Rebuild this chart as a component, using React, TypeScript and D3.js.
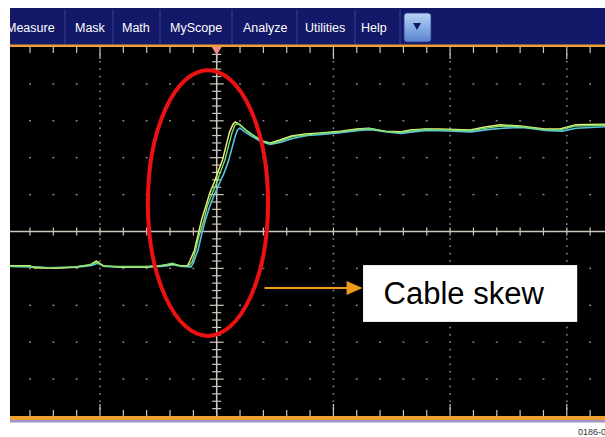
import React from "react";
import * as d3 from "d3";

// ---- data (time and amplitude in screen divisions) ----
const menuLabels = ["Measure", "Mask", "Math", "MyScope", "Analyze", "Utilities", "Help"];
const menuTextX = [6, 75, 122, 170, 243, 305, 361];
const menuSeparators = [65, 113, 160, 232, 297, 355, 400];

const yellowT = [-1.77, -1.6, -1.56, -1.34, -1.21, -1.09, -1.03, -0.97, -0.83, -0.61, -0.49, -0.38, -0.31, -0.25, -0.23, -0.19, -0.16, -0.13, -0.09, -0.06, -0.02, 0.01, 0.05, 0.08, 0.11, 0.14, 0.16, 0.2, 0.25, 0.32, 0.39, 0.46, 0.54, 0.64, 0.76, 0.89, 1.06, 1.2, 1.3, 1.44, 1.57, 1.66, 1.79, 1.91, 2.17, 2.3, 2.43, 2.6, 2.81, 2.94, 3.07, 3.33];
const yellowV = [-0.93, -0.93, -0.99, -0.99, -0.96, -0.91, -0.8, -0.93, -0.96, -0.96, -0.93, -0.88, -0.93, -0.93, -0.8, -0.5, -0.09, 0.31, 0.72, 1.04, 1.34, 1.61, 1.94, 2.32, 2.7, 2.91, 2.97, 2.89, 2.75, 2.59, 2.45, 2.4, 2.48, 2.59, 2.64, 2.67, 2.72, 2.78, 2.8, 2.72, 2.7, 2.75, 2.78, 2.78, 2.75, 2.83, 2.89, 2.86, 2.78, 2.78, 2.89, 2.91];

const greenT = [-1.77, -1.6, -1.45, -1.22, -1.08, -1.03, -0.97, -0.82, -0.62, -0.48, -0.38, -0.31, -0.24, -0.21, -0.18, -0.15, -0.11, -0.08, -0.04, 0.0, 0.03, 0.07, 0.1, 0.13, 0.155, 0.18, 0.21, 0.26, 0.33, 0.4, 0.47, 0.55, 0.65, 0.77, 0.89, 1.06, 1.21, 1.31, 1.45, 1.57, 1.67, 1.79, 1.91, 2.17, 2.31, 2.44, 2.61, 2.81, 2.95, 3.07, 3.33];
const greenV = [-0.94, -0.95, -0.98, -0.96, -0.9, -0.83, -0.94, -0.95, -0.95, -0.93, -0.86, -0.94, -0.94, -0.82, -0.5, -0.1, 0.3, 0.7, 1.02, 1.32, 1.6, 1.93, 2.3, 2.66, 2.88, 2.93, 2.86, 2.72, 2.57, 2.44, 2.38, 2.46, 2.57, 2.62, 2.66, 2.7, 2.76, 2.79, 2.71, 2.68, 2.73, 2.77, 2.76, 2.73, 2.8, 2.86, 2.84, 2.76, 2.76, 2.86, 2.88];

const cyanT = [-1.77, -1.58, -1.4, -1.2, -1.07, -1.02, -0.96, -0.8, -0.6, -0.45, -0.37, -0.3, -0.22, -0.2, -0.16, -0.13, -0.1, -0.06, -0.02, 0.02, 0.06, 0.1, 0.13, 0.16, 0.18, 0.2, 0.24, 0.3, 0.38, 0.46, 0.55, 0.65, 0.78, 0.9, 1.06, 1.22, 1.32, 1.46, 1.58, 1.68, 1.8, 1.92, 2.18, 2.32, 2.45, 2.62, 2.82, 2.96, 3.08, 3.33];
const cyanV = [-0.95, -0.96, -0.99, -0.97, -0.92, -0.86, -0.95, -0.97, -0.97, -0.94, -0.9, -0.95, -0.96, -0.85, -0.5, -0.1, 0.28, 0.68, 1.0, 1.28, 1.56, 1.9, 2.25, 2.6, 2.76, 2.8, 2.7, 2.58, 2.44, 2.36, 2.42, 2.52, 2.6, 2.63, 2.68, 2.74, 2.76, 2.7, 2.66, 2.7, 2.74, 2.73, 2.7, 2.76, 2.8, 2.82, 2.74, 2.72, 2.8, 2.84];

const annotationLabel = "Cable skew";
const footerLabel = "0186-0";

// ---- layout ----
const W = 605;
const H = 437;
const plotLeft = 10;
const plotRight = 605;
const plotTop = 47;
const plotBottom = 416;
const centerX = 216.7;
const divW = 116.7;

const x = d3.scaleLinear().domain([-5, 5]).range([centerX - 5 * divW, centerX + 5 * divW]);
const y = d3.scaleLinear().domain([-5, 5]).range([plotBottom, plotTop]);

const majorDivs = d3.range(-5, 5.001, 1);
const minorDivs = d3.range(-5, 5.001, 0.2).map((v) => Math.round(v * 10) / 10);

const inX = (px: number) => px >= plotLeft - 0.5 && px <= plotRight + 0.5;

function Trace({ t, v, color, width }: { t: number[]; v: number[]; color: string; width: number }) {
  const line = d3
    .line<number>()
    .x((_, i) => x(t[i]))
    .y((d) => y(d));
  return <path d={line(v) || ""} fill="none" stroke={color} strokeWidth={width} strokeLinejoin="round" />;
}

export default function App() {
  const gridColor = "#8a8a8a";
  const axisColor = "#cfc6bd";
  const dots: JSX.Element[] = [];
  // dots along vertical grid lines
  majorDivs.forEach((d) => {
    if (d === 0) return;
    const px = x(d);
    if (!inX(px)) return;
    minorDivs.forEach((m, j) => {
      const py = y(m);
      if (py <= plotTop + 2 || py >= plotBottom - 2) return;
      dots.push(<rect key={`vd${d}-${j}`} x={px - 0.8} y={py - 0.8} width={1.6} height={1.6} fill={gridColor} />);
    });
  });
  // dots along horizontal grid lines
  majorDivs.forEach((d) => {
    if (d === 0 || d === 5 || d === -5) return;
    const py = y(d);
    minorDivs.forEach((m, j) => {
      const px = x(m);
      if (!inX(px) || px < plotLeft + 3) return;
      if (Math.abs(m - Math.round(m)) < 0.01 && Math.round(m) !== 0) return;
      dots.push(<rect key={`hd${d}-${j}`} x={px - 1} y={py - 0.7} width={2} height={1.4} fill={gridColor} />);
    });
  });

  const ticks: JSX.Element[] = [];
  minorDivs.forEach((m, j) => {
    const px = x(m);
    if (!inX(px) || px < plotLeft + 2) return;
    const major = Math.abs(m - Math.round(m)) < 0.01;
    // top edge
    ticks.push(<line key={`tt${j}`} x1={px} x2={px} y1={plotTop} y2={plotTop + (major ? 12 : 6)} stroke={axisColor} strokeWidth={1.2} />);
    // bottom edge
    ticks.push(<line key={`bt${j}`} x1={px} x2={px} y1={plotBottom} y2={plotBottom - (major ? 12 : 6)} stroke={axisColor} strokeWidth={1.2} />);
    // center horizontal axis
    ticks.push(<line key={`ht${j}`} x1={px} x2={px} y1={y(0) - 4} y2={y(0) + 4} stroke={axisColor} strokeWidth={1.2} />);
  });
  minorDivs.forEach((m, j) => {
    const py = y(m);
    if (py <= plotTop + 1 || py >= plotBottom - 1) return;
    const major = Math.abs(m - Math.round(m)) < 0.01;
    const len = major ? 7 : 4.5;
    ticks.push(<line key={`vt${j}`} x1={x(0) - len} x2={x(0) + len} y1={py} y2={py} stroke={axisColor} strokeWidth={1.2} />);
  });

  const ellCx = x(-0.075);
  const ellCy = y(0.77);
  const ellRx = x(0.44) - x(-0.075);
  const ellRy = y(-2.83) - y(0.77);

  const arrowX1 = x(0.41);
  const arrowX2 = x(1.25);
  const arrowY = y(-1.53);

  const boxX1 = x(1.254);
  const boxX2 = x(3.089);
  const boxY1 = y(-0.91);
  const boxY2 = y(-2.45);

  return (
    <svg width={W} height={H} style={{ position: "absolute", left: 0, top: 0, background: "#fff" }} fontFamily="'Liberation Sans', Arial, sans-serif">
      <defs>
        <clipPath id="plotClip">
          <rect x={plotLeft} y={plotTop} width={plotRight - plotLeft} height={plotBottom - plotTop} />
        </clipPath>
        <clipPath id="barClip">
          <rect x={plotLeft} y={8} width={plotRight - plotLeft} height={37} />
        </clipPath>
        <linearGradient id="btnGrad" x1="0" y1="0" x2="0" y2="1">
          <stop offset="0" stopColor="#b8d4f4" />
          <stop offset="0.5" stopColor="#86aee6" />
          <stop offset="1" stopColor="#5a82cc" />
        </linearGradient>
      </defs>

      {/* menu bar */}
      <rect x={plotLeft} y={8} width={plotRight - plotLeft} height={37} fill="#141868" />
      <g clipPath="url(#barClip)">
        {menuSeparators.map((sx, i) => (
          <line key={i} x1={sx} x2={sx} y1={10} y2={44} stroke="#3a4098" strokeWidth={1} />
        ))}
        {menuLabels.map((m, i) => (
          <text key={m} x={menuTextX[i]} y={32} fill="#ffffff" fontSize={12.5}>
            {m}
          </text>
        ))}
      </g>
      <rect x={404} y={13} width={27} height={29} rx={3} fill="url(#btnGrad)" stroke="#2a3a90" strokeWidth={0.8} />
      <path d="M413,23 L421,23 L417,30 Z" fill="#101860" />
      <rect x={plotLeft} y={44.5} width={plotRight - plotLeft} height={3} fill="#f0a030" />

      {/* plot */}
      <rect x={plotLeft} y={plotTop} width={plotRight - plotLeft} height={plotBottom - plotTop} fill="#000" />
      <g clipPath="url(#plotClip)">
        {dots}
        <line x1={plotLeft} x2={plotRight} y1={y(0)} y2={y(0)} stroke={axisColor} strokeWidth={1.5} />
        <line x1={x(0)} x2={x(0)} y1={plotTop} y2={plotBottom} stroke={axisColor} strokeWidth={1.5} />
        {ticks}
        <Trace t={cyanT} v={cyanV} color="#5cc0dc" width={1.6} />
        <Trace t={yellowT} v={yellowV} color="#ecec78" width={1.5} />
        <Trace t={greenT} v={greenV} color="#78e070" width={1.4} />
        <path d={`M${x(0) - 5},${plotTop} L${x(0) + 5},${plotTop} L${x(0)},${plotTop + 8} Z`} fill="#f08a8a" />
        <ellipse cx={ellCx} cy={ellCy} rx={ellRx} ry={ellRy} fill="none" stroke="#ee1111" strokeWidth={4} />
        <line x1={arrowX1} x2={arrowX2 - 12} y1={arrowY} y2={arrowY} stroke="#f09a1a" strokeWidth={2} />
        <path d={`M${arrowX2 - 16},${arrowY - 7} L${arrowX2},${arrowY} L${arrowX2 - 16},${arrowY + 7} Z`} fill="#f09a1a" />
        <rect x={boxX1} y={boxY1} width={boxX2 - boxX1} height={boxY2 - boxY1} fill="#ffffff" />
        <text x={x(1.43)} y={y(-1.96)} fontSize={31} fill="#000">
          {annotationLabel}
        </text>
      </g>
      <rect x={plotLeft} y={plotBottom} width={plotRight - plotLeft} height={4} fill="#f0a030" />
      <rect x={plotLeft} y={plotBottom + 4} width={plotRight - plotLeft} height={2.5} fill="#9a98c8" />

      <text x={578} y={435} fontSize={9} fill="#333">
        {footerLabel}
      </text>
    </svg>
  );
}
